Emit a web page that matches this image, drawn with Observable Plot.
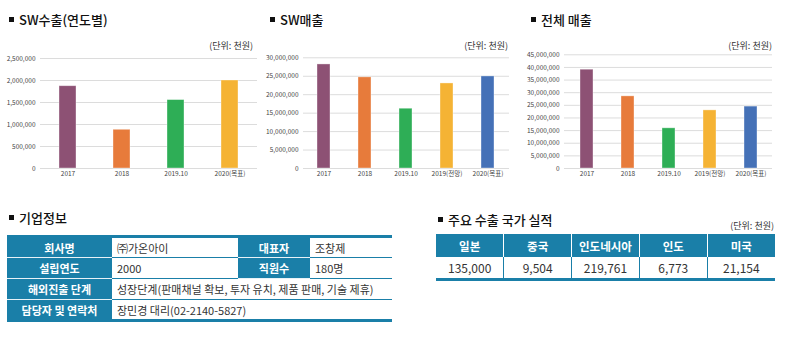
<!DOCTYPE html>
<html><head><meta charset="utf-8">
<script src="https://cdn.jsdelivr.net/npm/d3@7"></script>
<script src="https://cdn.jsdelivr.net/npm/@observablehq/plot@0.6"></script>
<style>
body{margin:0;background:#fff;font-family:"Noto Sans CJK KR","Noto Sans",sans-serif;color:#222;}
#root{position:relative;width:790px;height:338px;overflow:hidden;background:#fff;}
.title{position:absolute;font-size:13px;font-weight:500;color:#111;white-space:nowrap;line-height:16px;}
.title .sq{display:inline-block;width:5px;height:5px;background:#111;margin-right:5px;vertical-align:3px;}
.unit{position:absolute;font-size:9px;color:#333;white-space:nowrap;line-height:11px;text-align:right;}
.chart{position:absolute;}
table{position:absolute;border-collapse:collapse;table-layout:fixed;}
td{padding:0;height:21px;box-sizing:border-box;white-space:nowrap;overflow:hidden;}
#info{left:7px;top:235px;width:385px;border-top:3px solid #1A7FA8;border-bottom:3px solid #1A7FA8;}
#info td{border-bottom:1px solid #1A7FA8;font-size:11px;color:#333;padding-left:5px;}
#info td.h{background:#1A7FA8;color:#fff;font-weight:700;text-align:center;padding-left:0;border-bottom:1px solid #e8f2f7;}
#info tr:last-child td{border-bottom:none;}
#ctry{left:436px;top:234px;width:339px;border-bottom:3px solid #1A7FA8;}
#ctry td{text-align:center;}
#ctry td.h{background:#1A7FA8;color:#fff;font-weight:700;font-size:11.5px;height:23px;border-left:1px solid #fff;}
#ctry td.v{font-size:12px;color:#333;height:22px;border-left:1px solid #1A7FA8;}
#ctry td:first-child{border-left:none;}
</style>
</head><body><div id="root"></div>
<script>
// ---- data ----
const years1 = ["2017", "2018", "2019.10", "2020(목표)"];
const swExport = [1870000, 880000, 1555000, 2000000];
const years2 = ["2017", "2018", "2019.10", "2019(전망)", "2020(목표)"];
const swSales = [28200000, 24700000, 16200000, 23050000, 24950000];
const totalSales = [39100000, 28550000, 15900000, 23000000, 24500000];
const colors1 = ["#8D5174", "#E77B3B", "#2EAE56", "#F5B334"];
const colors2 = ["#8D5174", "#E77B3B", "#2EAE56", "#F5B334", "#4571B7"];
const yTicks1 = [0, 500000, 1000000, 1500000, 2000000, 2500000];
const yTicks2 = [0, 5000000, 10000000, 15000000, 20000000, 25000000, 30000000];
const yTicks3 = [0, 5000000, 10000000, 15000000, 20000000, 25000000, 30000000, 35000000, 40000000, 45000000];
const chartTitles = ["SW수출(연도별)", "SW매출", "전체 매출"];
const unitText = "(단위: 천원)";
const infoRows = [
  ["회사명", "㈜가온아이", "대표자", "조창제"],
  ["설립연도", "2000", "직원수", "180명"],
  ["해외진출 단계", "성장단계(판매채널 확보, 투자 유치, 제품 판매, 기술 제휴)"],
  ["담당자 및 연락처", "장민경 대리(02-2140-5827)"]
];
const countries = ["일본", "중국", "인도네시아", "인도", "미국"];
const countryValues = [135000, 9504, 219761, 6773, 21154];
const tableTitles = ["기업정보", "주요 수출 국가 실적"];

const root = document.getElementById("root");
function addTitle(text, x, y) {
  const d = document.createElement("div");
  d.className = "title";
  d.style.left = x + "px"; d.style.top = y + "px";
  d.innerHTML = '<span class="sq"></span>' + text;
  root.appendChild(d);
}
function addUnit(right, y) {
  const d = document.createElement("div");
  d.className = "unit";
  d.style.right = (790 - right) + "px"; d.style.top = y + "px";
  d.textContent = unitText;
  root.appendChild(d);
}
function barChart({names, values, colors, ticks, left, width, mt, ml, mr, pi, po}) {
  const data = names.map((n, i) => ({name: n, value: values[i]}));
  const p = Plot.plot({
    width, height: 135,
    marginTop: mt, marginBottom: 17, marginLeft: ml, marginRight: mr,
    style: {fontFamily: '"Liberation Sans Narrow","Noto Sans CJK KR",sans-serif', fontSize: "6.5px", color: "#444", background: "transparent", overflow: "visible"},
    x: {domain: names, paddingInner: pi, paddingOuter: po, label: null, tickSize: 0, tickPadding: 3},
    y: {domain: [0, ticks[ticks.length - 1]], ticks, tickFormat: d3.format(","), label: null, tickSize: 0, tickPadding: 5},
    color: {domain: names, range: colors},
    marks: [
      Plot.gridY(ticks, {stroke: "#dcdcdc", strokeOpacity: 1, strokeWidth: 1}),
      Plot.barY(data, {x: "name", y: "value", fill: "name", stroke: "#ffffff", strokeOpacity: 0.45, strokeWidth: 0.8})
    ]
  });
  p.classList.add("chart");
  p.style.left = left + "px"; p.style.top = "50px";
  root.appendChild(p);
}

addTitle(chartTitles[0], 9, 12);
addTitle(chartTitles[1], 270, 12);
addTitle(chartTitles[2], 531, 12);
addUnit(253, 40);
addUnit(508, 40);
addUnit(772, 40);

barChart({names: years1, values: swExport, colors: colors1, ticks: yTicks1, left: 0, width: 260, mt: 8, ml: 40, mr: 3, pi: 0.69, po: 0.345});
barChart({names: years2, values: swSales, colors: colors2, ticks: yTicks2, left: 260, width: 260, mt: 7.3, ml: 43, mr: 11, pi: 0.68, po: 0.35});
barChart({names: years2, values: totalSales, colors: colors2, ticks: yTicks3, left: 520, width: 270, mt: 4.3, ml: 44, mr: 18, pi: 0.685, po: 0.36});

addTitle(tableTitles[0], 9, 210);
addTitle(tableTitles[1], 438, 212);
addUnit(774, 220);

// company info table
const t1 = document.createElement("table");
t1.id = "info";
t1.innerHTML = '<colgroup><col style="width:105px"><col style="width:126px"><col style="width:72px"><col style="width:82px"></colgroup>';
infoRows.forEach(r => {
  const tr = document.createElement("tr");
  if (r.length === 4) {
    tr.innerHTML = `<td class="h">${r[0]}</td><td>${r[1]}</td><td class="h">${r[2]}</td><td>${r[3]}</td>`;
  } else {
    tr.innerHTML = `<td class="h">${r[0]}</td><td colspan="3">${r[1]}</td>`;
  }
  t1.appendChild(tr);
});
root.appendChild(t1);

// country table
const t2 = document.createElement("table");
t2.id = "ctry";
const fmt = d3.format(",");
t2.innerHTML = "<tr>" + countries.map(c => `<td class="h">${c}</td>`).join("") + "</tr>" +
  "<tr>" + countryValues.map(v => `<td class="v">${fmt(v)}</td>`).join("") + "</tr>";
root.appendChild(t2);
</script>
</body></html>
